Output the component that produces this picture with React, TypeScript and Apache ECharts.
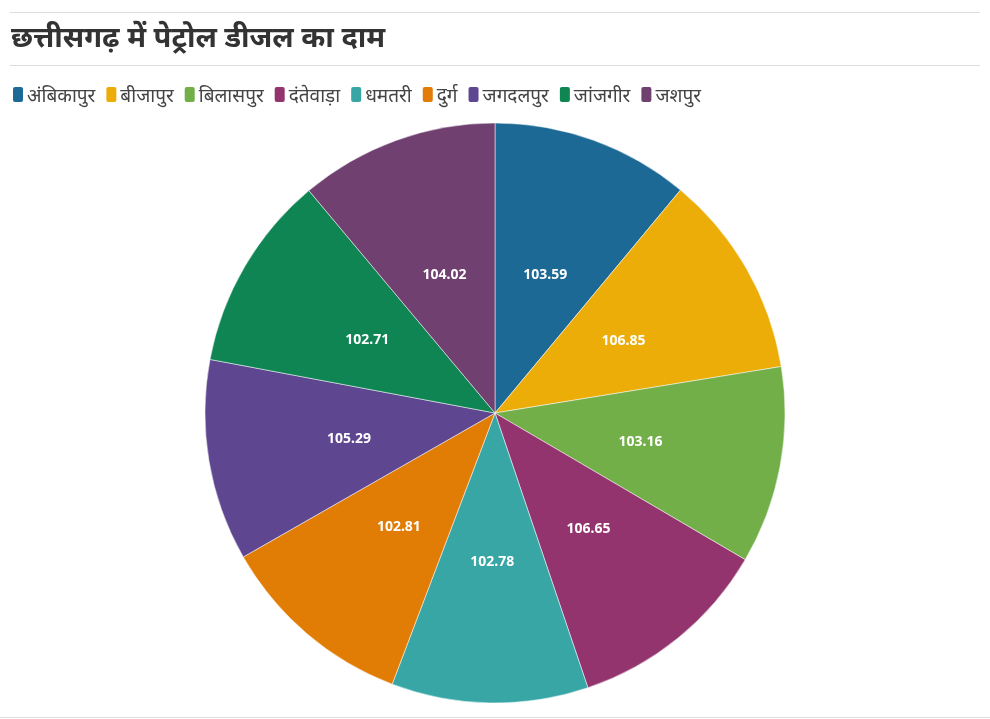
import React, { useEffect, useRef } from "react";
import * as echarts from "echarts";

const categories = ["अंबिकापुर", "बीजापुर", "बिलासपुर", "दंतेवाड़ा", "धमतरी", "दुर्ग", "जगदलपुर", "जांजगीर", "जशपुर"];
const values = [103.59, 106.85, 103.16, 106.65, 102.78, 102.81, 105.29, 102.71, 104.02];
const colors = ["#1d6996", "#edad08", "#73af48", "#94346e", "#38a6a5", "#e17c05", "#5f4690", "#0f8554", "#6f4070"];
const titleText = "छत्तीसगढ़ में पेट्रोल डीजल का दाम";

export default function App() {
  const ref = useRef<HTMLDivElement>(null);
  useEffect(() => {
    if (!ref.current) return;
    const chart = echarts.init(ref.current, null, { renderer: "svg" });
    const font = "'Noto Sans', 'Lato', sans-serif";
    chart.setOption({
      animation: false,
      color: colors,
      textStyle: { fontFamily: font },
      title: {
        text: titleText,
        left: 6,
        top: 16,
        textStyle: { fontSize: 29, fontWeight: "bold", color: "#333", fontFamily: font },
      },
      graphic: [
        { type: "line", shape: { x1: 10, y1: 12.5, x2: 980, y2: 12.5 }, style: { stroke: "#dddddd", lineWidth: 1 } },
        { type: "line", shape: { x1: 10, y1: 65.5, x2: 980, y2: 65.5 }, style: { stroke: "#dddddd", lineWidth: 1 } },
        { type: "line", shape: { x1: 0, y1: 717.5, x2: 990, y2: 717.5 }, style: { stroke: "#dddddd", lineWidth: 1 } },
      ],
      legend: {
        left: 6,
        top: 80,
        itemWidth: 12,
        itemHeight: 17,
        itemGap: 9,
        icon: "roundRect",
        data: categories,
        textStyle: { fontSize: 19, color: "#444", fontFamily: font, padding: [0, 0, 0, -2] },
      },
      series: [
        {
          type: "pie",
          center: [495, 413],
          radius: 290,
          startAngle: 90,
          clockwise: true,
          data: categories.map((c, i) => ({ name: c, value: values[i] })),
          label: {
            show: true,
            position: "inside",
            formatter: (p: any) => p.value.toFixed(2),
            color: "#fff",
            fontSize: 14,
            fontWeight: "bold",
            fontFamily: font,
          },
          labelLine: { show: false },
          itemStyle: { borderColor: "#ffffff", borderWidth: 0.5 },
          emphasis: { disabled: true },
        },
      ],
    });
    return () => chart.dispose();
  }, []);
  return <div ref={ref} style={{ position: "fixed", left: 0, top: 0, width: 990, height: 719 }} />;
}
